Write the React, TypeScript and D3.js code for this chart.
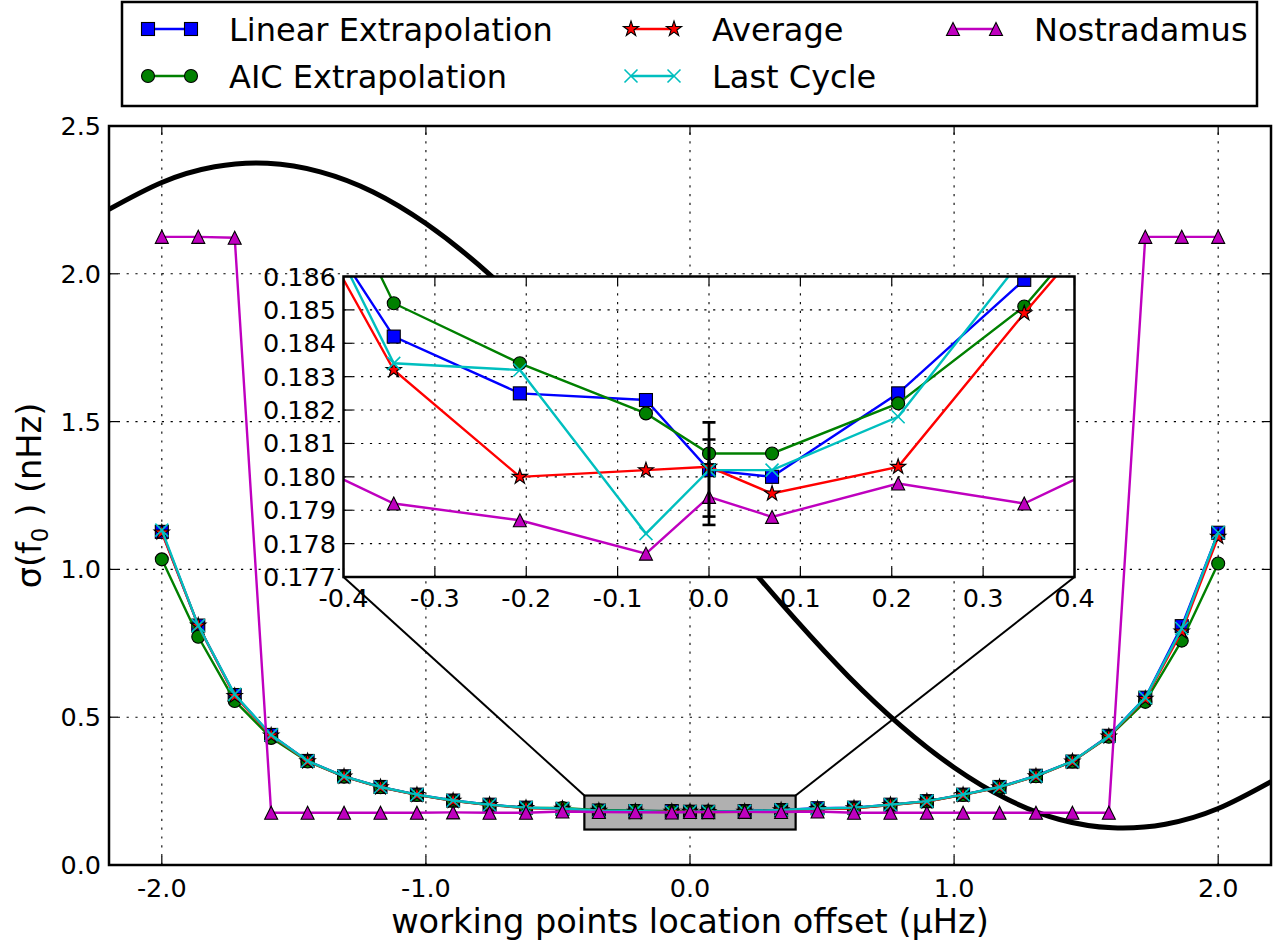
import React from "react";
import * as d3 from "d3";

const width = 1276;
const height = 945;
const font = "DejaVu Sans, Verdana, sans-serif";

// working points (linspace(-2, 2, 30) plus the centre point)
const offsets = [
  -2.0, -1.862, -1.724, -1.586, -1.448, -1.31, -1.172, -1.034, -0.897, -0.759, -0.621, -0.483,
  -0.345, -0.207, -0.069, 0.0, 0.069, 0.207, 0.345, 0.483, 0.621, 0.759, 0.897, 1.034, 1.172,
  1.31, 1.448, 1.586, 1.724, 1.862, 2.0,
];

const linearExtrapolation = [
  1.127, 0.81, 0.575, 0.44, 0.352, 0.3, 0.264, 0.238, 0.218, 0.204, 0.194, 0.19,
  0.1842, 0.1825, 0.1823, 0.1802, 0.18, 0.1825, 0.1859, 0.192, 0.194, 0.204, 0.216, 0.238, 0.264,
  0.302, 0.35, 0.437, 0.566, 0.808, 1.124,
];
const aicExtrapolation = [
  1.034, 0.772, 0.555, 0.43, 0.35, 0.299, 0.263, 0.237, 0.217, 0.203, 0.193, 0.193,
  0.1852, 0.1834, 0.1819, 0.1807, 0.1807, 0.1822, 0.1851, 0.1895, 0.192, 0.203, 0.215, 0.237, 0.263,
  0.3, 0.35, 0.434, 0.552, 0.759, 1.02,
];
const average = [
  1.125, 0.81, 0.572, 0.438, 0.351, 0.299, 0.263, 0.237, 0.217, 0.203, 0.193, 0.19,
  0.1832, 0.18, 0.1802, 0.1803, 0.1795, 0.1803, 0.1849, 0.1893, 0.192, 0.203, 0.215, 0.237, 0.263,
  0.3, 0.35, 0.435, 0.562, 0.79, 1.11,
];
const lastCycle = [
  1.133, 0.81, 0.577, 0.44, 0.352, 0.3, 0.264, 0.238, 0.218, 0.204, 0.194, 0.191,
  0.1834, 0.1832, 0.1783, 0.1802, 0.1802, 0.1818, 0.1866, 0.191, 0.194, 0.204, 0.216, 0.238, 0.264,
  0.301, 0.351, 0.436, 0.566, 0.8, 1.125,
];
const nostradamus = [
  2.125, 2.125, 2.122, 0.177, 0.177, 0.177, 0.177, 0.177, 0.178, 0.177, 0.177, 0.181,
  0.1792, 0.1787, 0.1777, 0.1794, 0.1788, 0.1798, 0.1792, 0.181, 0.177, 0.177, 0.177, 0.177, 0.177,
  0.177, 0.177, 0.177, 2.125, 2.125, 2.125,
];

// thick black guide curve
const guideX = [-2.2, -2.0, -1.8, -1.6, -1.4, -1.2, -1.0, -0.8, -0.6, -0.4, -0.2, 0.0, 0.2, 0.4, 0.6, 0.8, 1.0, 1.2, 1.4, 1.6, 1.8, 2.0, 2.2];
const guideY = [2.218, 2.309, 2.362, 2.374, 2.345, 2.277, 2.17, 2.03, 1.862, 1.67, 1.464, 1.25, 1.036, 0.83, 0.638, 0.47, 0.33, 0.223, 0.154, 0.126, 0.138, 0.191, 0.282];

// error bars at the centre point
const errorX = [0.0, 0.0];
const errorLow = [0.17856, 0.17881];
const errorHigh = [0.18163, 0.18112];

const mainXTicks = [-2, -1, 0, 1, 2];
const mainYTicks = [0, 0.5, 1.0, 1.5, 2.0, 2.5];
const insetXTicks = [-0.4, -0.3, -0.2, -0.1, 0.0, 0.1, 0.2, 0.3, 0.4];
const insetYTicks = [0.177, 0.178, 0.179, 0.18, 0.181, 0.182, 0.183, 0.184, 0.185, 0.186];

const zoomBoxX = [-0.4, 0.4];
const zoomBoxY = [0.12, 0.235];

const series = [
  { name: "Linear Extrapolation", values: linearExtrapolation, color: "#0000ff", marker: "square" },
  { name: "AIC Extrapolation", values: aicExtrapolation, color: "#008000", marker: "circle" },
  { name: "Average", values: average, color: "#ff0000", marker: "star" },
  { name: "Last Cycle", values: lastCycle, color: "#00bfbf", marker: "x" },
  { name: "Nostradamus", values: nostradamus, color: "#bf00bf", marker: "triangle" },
];

const starPath = d3.symbol(d3.symbolStar, (8 * 8) / 0.8908)();

function Marker({ type, x, y, color }) {
  const s = 6.5;
  if (type === "square")
    return <rect x={x - s} y={y - s} width={2 * s} height={2 * s} fill={color} stroke="#000" strokeWidth={1.1} />;
  if (type === "circle")
    return <circle cx={x} cy={y} r={s} fill={color} stroke="#000" strokeWidth={1.1} />;
  if (type === "triangle")
    return <path d={`M${x},${y - s}L${x - s},${y + s}L${x + s},${y + s}Z`} fill={color} stroke="#000" strokeWidth={1.1} />;
  if (type === "star")
    return <path d={starPath} transform={`translate(${x},${y})`} fill={color} stroke="#000" strokeWidth={1.1} />;
  return (
    <path d={`M${x - s},${y - s}L${x + s},${y + s}M${x - s},${y + s}L${x + s},${y - s}`} stroke={color} strokeWidth={1.6} fill="none" />
  );
}

const fmt1 = (d) => d.toFixed(1);
const fmt3 = (d) => d.toFixed(3);

export default function App() {
  const x = d3.scaleLinear().domain([-2.2, 2.2]).range([109, 1271]);
  const y = d3.scaleLinear().domain([0, 2.5]).range([865, 126]);
  const ix = d3.scaleLinear().domain([-0.4, 0.4]).range([343.5, 1074.5]);
  const iy = d3.scaleLinear().domain([0.177, 0.186]).range([577, 276.5]);

  const [x0, x1] = x.range();
  const [y0, y1] = y.range();
  const [ix0, ix1] = ix.range();
  const [iy0, iy1] = iy.range();

  const mainLine = d3.line().x((d) => x(d[0])).y((d) => y(d[1]));
  const insetLine = d3.line().x((d) => ix(d[0])).y((d) => iy(d[1]));
  const guide = d3
    .line()
    .x((d) => x(d[0]))
    .y((d) => y(d[1]))
    .curve(d3.curveNatural)(guideX.map((g, i) => [g, guideY[i]]));

  const grid = { stroke: "#000", strokeWidth: 1.1, strokeDasharray: "2.2,6.6" };
  const tickLen = 9;

  const boxL = x(zoomBoxX[0]);
  const boxR = x(zoomBoxX[1]);
  const boxT = y(zoomBoxY[1]);
  const boxB = y(zoomBoxY[0]);

  const legendCols = [229, 712, 1034];
  const legendRows = [29, 76];
  const legendPos = [
    [0, 0], [0, 1], [1, 0], [1, 1], [2, 0],
  ];

  return (
    <svg width={width} height={height} style={{ position: "absolute", left: 0, top: 0, background: "#fff" }} fontFamily={font}>
      <defs>
        <clipPath id="mainClip">
          <rect x={x0} y={y1} width={x1 - x0} height={y0 - y1} />
        </clipPath>
        <clipPath id="insetClip">
          <rect x={ix0} y={iy1} width={ix1 - ix0} height={iy0 - iy1} />
        </clipPath>
      </defs>
      <rect width={width} height={height} fill="#fff" />

      {/* main grid */}
      {mainXTicks.map((t) => (
        <line key={"gx" + t} x1={x(t)} x2={x(t)} y1={y0} y2={y1} {...grid} />
      ))}
      {mainYTicks.slice(1, -1).map((t) => (
        <line key={"gy" + t} x1={x0} x2={x1} y1={y(t)} y2={y(t)} {...grid} />
      ))}

      <g clipPath="url(#mainClip)">
        <path d={guide} fill="none" stroke="#000" strokeWidth={5} />
        <rect x={boxL} y={boxT} width={boxR - boxL} height={boxB - boxT} fill="#b0b0b0" stroke="#000" strokeWidth={2.2} />
        {series.map((s) => {
          const pts = offsets.map((o, i) => [o, s.values[i]]);
          return (
            <g key={s.name}>
              <path d={mainLine(pts)} fill="none" stroke={s.color} strokeWidth={2.4} />
              {pts.map((p, i) => (
                <Marker key={i} type={s.marker} x={x(p[0])} y={y(p[1])} color={s.color} />
              ))}
            </g>
          );
        })}
      </g>

      {/* main frame and ticks */}
      <rect x={x0} y={y1} width={x1 - x0} height={y0 - y1} fill="none" stroke="#000" strokeWidth={2.5} />
      {mainXTicks.map((t) => (
        <g key={"tx" + t}>
          <line x1={x(t)} x2={x(t)} y1={y0} y2={y0 - tickLen} stroke="#000" strokeWidth={1.2} />
          <line x1={x(t)} x2={x(t)} y1={y1} y2={y1 + tickLen} stroke="#000" strokeWidth={1.2} />
          <text x={x(t)} y={897} fontSize={25.5} textAnchor="middle">{fmt1(t)}</text>
        </g>
      ))}
      {mainYTicks.map((t) => (
        <g key={"ty" + t}>
          <line x1={x0} x2={x0 + tickLen} y1={y(t)} y2={y(t)} stroke="#000" strokeWidth={1.2} />
          <line x1={x1} x2={x1 - tickLen} y1={y(t)} y2={y(t)} stroke="#000" strokeWidth={1.2} />
          <text x={101} y={y(t) + 9} fontSize={25.5} textAnchor="end">{fmt1(t)}</text>
        </g>
      ))}
      <text x={690} y={933} fontSize={33.6} textAnchor="middle">working points location offset (μHz)</text>
      <text transform={`translate(41,${(y0 + y1) / 2}) rotate(-90)`} fontSize={33.6} textAnchor="middle">
        σ(f<tspan dy={7} fontSize={23}>0</tspan>
        <tspan dy={-7}> ) (nHz)</tspan>
      </text>

      {/* connectors from the zoom box to the inset */}
      <line x1={boxL} y1={boxT} x2={ix0} y2={iy0} stroke="#000" strokeWidth={2} />
      <line x1={boxR} y1={boxT} x2={ix1} y2={iy0} stroke="#000" strokeWidth={2} />

      {/* inset */}
      <rect x={ix0} y={iy1} width={ix1 - ix0} height={iy0 - iy1} fill="#fff" />
      {insetXTicks.slice(1, -1).map((t) => (
        <line key={"igx" + t} x1={ix(t)} x2={ix(t)} y1={iy0} y2={iy1} {...grid} />
      ))}
      {insetYTicks.slice(1, -1).map((t) => (
        <line key={"igy" + t} x1={ix0} x2={ix1} y1={iy(t)} y2={iy(t)} {...grid} />
      ))}
      <g clipPath="url(#insetClip)">
        {series.map((s) => {
          const pts = offsets.map((o, i) => [o, s.values[i]]);
          return (
            <g key={s.name}>
              <path d={insetLine(pts)} fill="none" stroke={s.color} strokeWidth={2.4} />
              {pts.map((p, i) => (
                <Marker key={i} type={s.marker} x={ix(p[0])} y={iy(p[1])} color={s.color} />
              ))}
            </g>
          );
        })}
        {errorX.map((e, i) => (
          <g key={"eb" + i} stroke="#000" strokeWidth={2.6}>
            <line x1={ix(e)} x2={ix(e)} y1={iy(errorLow[i])} y2={iy(errorHigh[i])} />
            <line x1={ix(e) - 6.5} x2={ix(e) + 6.5} y1={iy(errorLow[i])} y2={iy(errorLow[i])} />
            <line x1={ix(e) - 6.5} x2={ix(e) + 6.5} y1={iy(errorHigh[i])} y2={iy(errorHigh[i])} />
          </g>
        ))}
      </g>
      <rect x={ix0} y={iy1} width={ix1 - ix0} height={iy0 - iy1} fill="none" stroke="#000" strokeWidth={2.5} />
      {insetXTicks.map((t) => (
        <g key={"itx" + t}>
          <line x1={ix(t)} x2={ix(t)} y1={iy0} y2={iy0 - tickLen} stroke="#000" strokeWidth={1.2} />
          <line x1={ix(t)} x2={ix(t)} y1={iy1} y2={iy1 + tickLen} stroke="#000" strokeWidth={1.2} />
          <text x={ix(t)} y={607} fontSize={25.5} textAnchor="middle">{fmt1(t)}</text>
        </g>
      ))}
      {insetYTicks.map((t) => (
        <g key={"ity" + t}>
          <line x1={ix0} x2={ix0 + tickLen} y1={iy(t)} y2={iy(t)} stroke="#000" strokeWidth={1.2} />
          <line x1={ix1} x2={ix1 - tickLen} y1={iy(t)} y2={iy(t)} stroke="#000" strokeWidth={1.2} />
          <text x={336} y={iy(t) + 9} fontSize={25.5} textAnchor="end">{fmt3(t)}</text>
        </g>
      ))}

      {/* legend */}
      <rect x={122} y={2} width={1135} height={104} fill="#fff" stroke="#000" strokeWidth={2.5} />
      {series.map((s, i) => {
        const tx = legendCols[legendPos[i][0]];
        const ty = legendRows[legendPos[i][1]];
        const m1 = tx - 81;
        const m2 = tx - 38;
        return (
          <g key={"lg" + s.name}>
            <line x1={m1} x2={m2} y1={ty} y2={ty} stroke={s.color} strokeWidth={2.4} />
            <Marker type={s.marker} x={m1} y={ty} color={s.color} />
            <Marker type={s.marker} x={m2} y={ty} color={s.color} />
            <text x={tx} y={ty + 11.5} fontSize={32}>{s.name}</text>
          </g>
        );
      })}
    </svg>
  );
}
